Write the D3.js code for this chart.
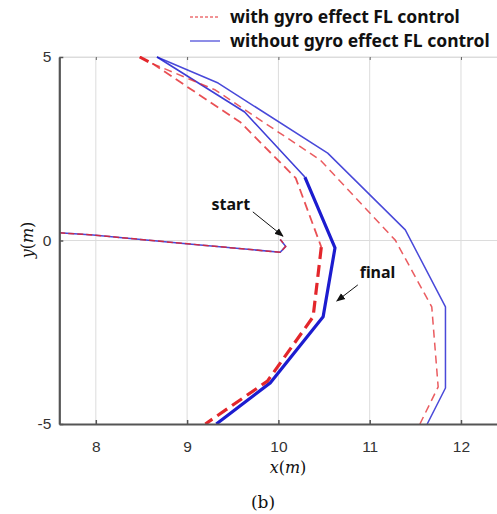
<!DOCTYPE html>
<html lang="en">
<head>
<meta charset="utf-8">
<title>Trajectory (b)</title>
<script src="https://d3js.org/d3.v7.min.js"></script>
<style>
  body { margin: 0; background: #fff; }
  svg { display: block; }
  .tick text { font-family: "Liberation Sans", Arial, sans-serif; font-size: 15.5px; fill: #333; }
  .lbl { font-family: "Noto Sans", "DejaVu Sans", sans-serif; font-weight: bold; font-size: 16px; fill: #111; }
  .math { font-family: "DejaVu Serif", "Liberation Serif", serif; font-size: 16px; fill: #111; }
</style>
</head>
<body>
<div id="chart"></div>
<script>
// tick values
var xTicks = [8, 9, 10, 11, 12];
var yTicks = [-5, 0, 5];

// trajectories, [x, y] in metres
var startLeg = [[7.6, 0.21], [7.97, 0.15], [8.96, -0.08], [10.02, -0.32], [10.08, -0.16], [10.02, 0.03]];

var redTopThick   = [[8.48, 5.0], [8.62, 4.82]];
var redInnerThin  = [[8.62, 4.82], [9.58, 3.23], [10.19, 1.70], [10.47, -0.18]];
var redInnerThick = [[10.47, -0.18], [10.38, -2.08], [9.88, -3.83], [9.20, -5.0]];
var redOuter      = [[8.62, 4.82], [9.31, 4.10], [10.46, 2.19], [11.28, 0.01], [11.68, -1.81], [11.75, -3.99], [11.55, -5.0]];

var blueInnerThin  = [[8.67, 5.0], [9.63, 3.50], [10.29, 1.73]];
var blueInnerThick = [[10.29, 1.73], [10.62, -0.20], [10.49, -2.08], [9.91, -3.88], [9.32, -5.0]];
var blueOuter      = [[8.67, 5.0], [9.34, 4.29], [10.54, 2.38], [11.39, 0.29], [11.83, -1.81], [11.83, -4.02], [11.63, -5.0]];

// annotations: text anchor point and arrow tail -> head
var notes = [
  { text: "start", tx: 9.69, ty: 0.83, anchor: "end",   from: [9.72, 0.78],  to: [10.05, 0.12] },
  { text: "final", tx: 10.89, ty: -1.02, anchor: "start", from: [10.87, -1.21], to: [10.64, -1.65] }
];

var legendItems = ["with gyro effect FL control", "without gyro effect FL control"];

var W = 497, H = 514;
var red = "#e3262b", blue = "#1c1ccf";

var svg = d3.select("#chart").append("svg")
  .attr("width", W).attr("height", H);

var x = d3.scaleLinear().domain([7.6, 12.4]).range([59.3, 497.5]);
var y = d3.scaleLinear().domain([-5, 5]).range([424, 57]);

svg.append("defs").append("clipPath").attr("id", "plot")
  .append("rect").attr("x", x(7.6)).attr("y", y(5) - 1)
  .attr("width", x(12.4) - x(7.6)).attr("height", y(-5) - y(5) + 1);

svg.append("defs").append("marker")
  .attr("id", "arrow").attr("viewBox", "0 0 10 10")
  .attr("refX", 9).attr("refY", 5)
  .attr("markerWidth", 9).attr("markerHeight", 9)
  .attr("orient", "auto-start-reverse")
  .append("path").attr("d", "M0,1 L10,5 L0,9 z").attr("fill", "#111");

// grid
var grid = svg.append("g").attr("stroke", "#dcdcdc").attr("stroke-width", 1);
grid.selectAll(".gx").data(xTicks).join("line")
  .attr("x1", d => x(d)).attr("x2", d => x(d))
  .attr("y1", y(5)).attr("y2", y(-5));
grid.selectAll(".gy").data([0, 5]).join("line")
  .attr("x1", x(7.6)).attr("x2", x(12.4))
  .attr("y1", d => y(d)).attr("y2", d => y(d));

// top edge ticks
var topAxis = svg.append("g").attr("transform", "translate(0," + y(5) + ")")
  .call(d3.axisTop(x).tickValues(xTicks).tickSizeInner(-3).tickSizeOuter(0).tickFormat(""));
topAxis.select(".domain").attr("stroke", "#dcdcdc");
topAxis.selectAll(".tick line").attr("stroke", "#666");

// lines
var line = d3.line().x(d => x(d[0])).y(d => y(d[1]));
var plot = svg.append("g").attr("clip-path", "url(#plot)").attr("fill", "none")
  .attr("stroke-linejoin", "round");

function draw(pts, color, width, dash, op) {
  plot.append("path").datum(pts).attr("d", line)
    .attr("stroke", color).attr("stroke-width", width)
    .attr("stroke-dasharray", dash || null)
    .attr("stroke-opacity", op || 1);
}

draw(blueOuter, blue, 1.5, null, 0.8);
draw(blueInnerThin, blue, 1.6, null, 0.85);
draw(blueInnerThick, blue, 3.2);
draw(startLeg, blue, 1.6, null, 0.8);

draw(redOuter, red, 1.5, "8,5", 0.75);
draw(redInnerThin, red, 1.8, "9,5", 0.8);
draw(redInnerThick, red, 3.2, "12,6");
draw(redTopThick, red, 3, "10,5");
draw(startLeg, red, 1.5, "6,3", 0.85);

// axes
var fmt = d => String(d);
var xAxis = svg.append("g").attr("transform", "translate(0," + y(-5) + ")")
  .call(d3.axisBottom(x).tickValues(xTicks).tickFormat(fmt).tickSizeInner(-4).tickSizeOuter(0).tickPadding(17));
var yAxis = svg.append("g").attr("transform", "translate(" + x(7.6) + ",0)")
  .call(d3.axisLeft(y).tickValues(yTicks).tickFormat(fmt).tickSizeInner(-4).tickSizeOuter(0).tickPadding(8));
[xAxis, yAxis].forEach(function (a) {
  a.select(".domain").attr("stroke", "#555").attr("stroke-width", 2.2);
  a.selectAll(".tick line").attr("stroke", "#555").attr("stroke-width", 1.5);
});

// annotations
notes.forEach(function (n) {
  svg.append("text").attr("class", "lbl")
    .attr("x", x(n.tx)).attr("y", y(n.ty))
    .attr("text-anchor", n.anchor).text(n.text);
  svg.append("line")
    .attr("x1", x(n.from[0])).attr("y1", y(n.from[1]))
    .attr("x2", x(n.to[0])).attr("y2", y(n.to[1]))
    .attr("stroke", "#111").attr("stroke-width", 1)
    .attr("marker-end", "url(#arrow)");
});

// legend
var leg = svg.append("g");
legendItems.forEach(function (t, i) {
  var ly = 17 + i * 24;
  leg.append("line").attr("x1", 190).attr("x2", 220).attr("y1", ly).attr("y2", ly)
    .attr("stroke", i === 0 ? red : blue).attr("stroke-width", 1)
    .attr("stroke-dasharray", i === 0 ? "3,2" : null);
  leg.append("text").attr("class", "lbl").style("font-size", "17.5px")
    .attr("x", 230).attr("y", ly + 6).text(t);
});

// axis titles
svg.append("text").attr("class", "math")
  .attr("x", 288).attr("y", 473).attr("text-anchor", "middle")
  .html('<tspan font-style="italic">x</tspan>(<tspan font-style="italic">m</tspan>)');
svg.append("text").attr("class", "math")
  .attr("transform", "translate(33,240) rotate(-90)").attr("text-anchor", "middle")
  .html('<tspan font-style="italic">y</tspan>(<tspan font-style="italic">m</tspan>)');
svg.append("text").attr("class", "math").style("font-size", "17px")
  .attr("x", 263).attr("y", 508).attr("text-anchor", "middle").text("(b)");
</script>
</body>
</html>
